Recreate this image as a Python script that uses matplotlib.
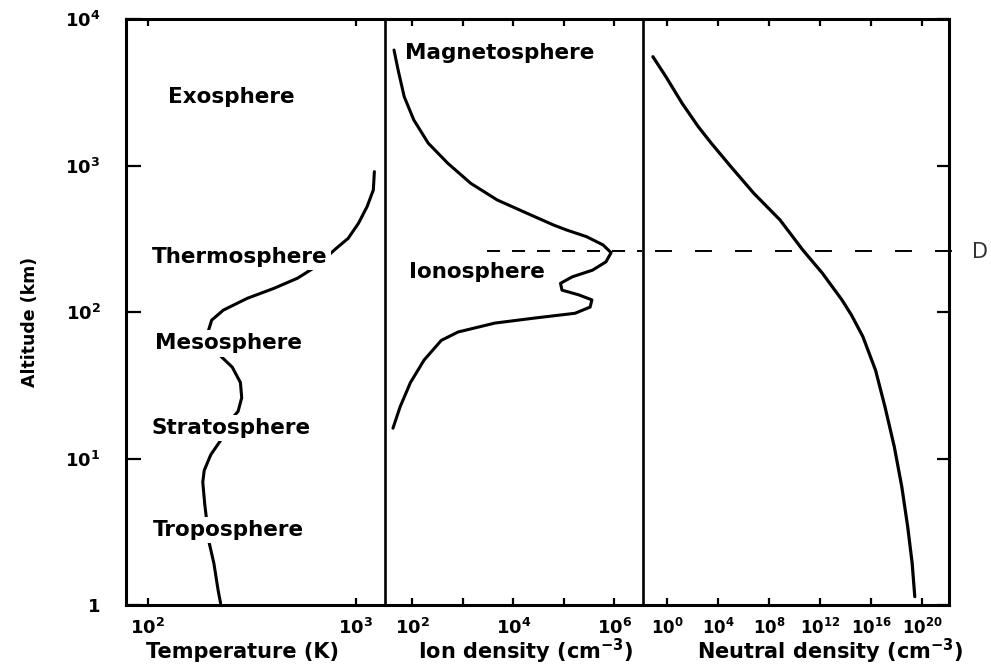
import matplotlib
matplotlib.use("Agg")
import matplotlib.pyplot as plt
from matplotlib.ticker import FixedLocator, FixedFormatter, NullLocator

plt.rcParams["font.family"] = ["DejaVu Sans"]
plt.rcParams["font.weight"] = "bold"
plt.rcParams["mathtext.default"] = "bf"
plt.rcParams["lines.scale_dashes"] = False

# ---------------------------------------------------------------------------
# Atmospheric profiles
# ---------------------------------------------------------------------------
# Temperature (K) versus altitude (km)
temp_alt_km = [908, 681, 524, 403, 318, 272, 204, 170, 145, 124, 103, 88, 73,
               51, 42, 33, 26, 21, 18.5, 13.4, 10.6, 8.3, 6.9, 4.9, 3.8, 2.7,
               1.93, 1.26, 1.03]
temp_K = [1227, 1213, 1132, 1029, 918, 805, 643, 524, 404, 301, 231, 203, 195,
          221, 255, 279, 283, 272, 252, 225, 201, 187, 184, 188, 192, 197,
          208, 218, 224]

# Ion density (cm^-3) versus altitude (km)
ion_alt_km = [6140, 4490, 2950, 2050, 1420, 1035, 755, 582, 472, 393,
              363, 327, 287, 254, 220, 193, 174, 157, 141, 131,
              121, 108, 98, 91, 84, 73, 64, 47, 33, 22.5, 16.1]
ion_density = [44, 53, 70, 108, 209, 510, 1450, 4810, 1.87e4, 6.2e4,
               1.13e5, 2.8e5, 5.96e5, 8.6e5, 6.8e5, 3.69e5, 1.48e5, 8.6e4, 9.2e4, 1.96e5,
               3.59e5, 3.31e5, 1.66e5, 2.7e4, 4320, 810, 378, 173, 93, 58, 42]

# Neutral density (cm^-3) versus altitude (km)
neutral_alt_km = [5530, 4040, 2660, 1840, 1420, 982, 646, 425, 265, 184,
                  121, 95, 68, 40, 22.5, 12.0, 6.4, 3.4, 1.93, 1.14]
neutral_density = [0.072, 0.75, 14, 261, 2720, 9.4e4, 5.9e6, 6.7e8, 4.1e10, 1.41e12,
                   4.8e13, 2.75e14, 2.1e15, 2.1e16, 1.15e17, 6.2e17, 2.4e18, 7.0e18,
                   1.55e19, 2.5e19]

# Altitude of the dashed reference level (km)
d_level_alt_km = 260

# Axis ticks and labels
alt_ticks = [1, 10, 100, 1000, 10000]
alt_tick_labels = ["1", "$10^{1}$", "$10^{2}$", "$10^{3}$", "$10^{4}$"]
temp_ticks = [1e2, 1e3]
temp_tick_labels = ["$10^{2}$", "$10^{3}$"]
ion_ticks = [1e2, 1e3, 1e4, 1e5, 1e6]
ion_tick_labels = ["$10^{2}$", "", "$10^{4}$", "", "$10^{6}$"]
neutral_ticks = [1e0, 1e4, 1e8, 1e12, 1e16, 1e20]
neutral_tick_labels = ["$10^{0}$", "$10^{4}$", "$10^{8}$", "$10^{12}$",
                       "$10^{16}$", "$10^{20}$"]

temp_layers = ["Exosphere", "Thermosphere", "Mesosphere", "Stratosphere", "Troposphere"]
ion_layers = ["Magnetosphere", "Ionosphere"]

# ---------------------------------------------------------------------------
W, H = 991, 668
fig = plt.figure(figsize=(W / 100, H / 100), dpi=100)
fig.patch.set_facecolor("white")

y0, y1 = 605, 19          # frame bottom / top in pixels
xs = [125.5, 385, 642.5, 948.5]
axes = []
for i in range(3):
    ax = fig.add_axes([xs[i] / W, (H - y0) / H, (xs[i + 1] - xs[i]) / W, (y0 - y1) / H])
    axes.append(ax)
ax_t, ax_i, ax_n = axes

for ax in axes:
    ax.set_yscale("log")
    ax.set_xscale("log")
    ax.set_ylim(1, 1e4)
    ax.xaxis.set_minor_locator(NullLocator())
    ax.yaxis.set_minor_locator(NullLocator())
    for s in ax.spines.values():
        s.set_linewidth(2.2)
    ax.tick_params(axis="x", which="major", direction="in", top=True, bottom=True,
                   length=5, width=1.6, pad=9, labelsize=13)

ax_t.set_xlim(78.3, 1380)
ax_i.set_xlim(29.2, 3.59e6)
ax_n.set_xlim(0.011, 1.1e22)

ax_t.spines["right"].set_visible(False)
ax_i.spines["right"].set_visible(False)
ax_i.spines["left"].set_linewidth(1.9)
ax_n.spines["left"].set_linewidth(1.9)

# x ticks
for ax, ticks, labels in [(ax_t, temp_ticks, temp_tick_labels),
                          (ax_i, ion_ticks, ion_tick_labels),
                          (ax_n, neutral_ticks, neutral_tick_labels)]:
    ax.xaxis.set_major_locator(FixedLocator(ticks))
    ax.xaxis.set_major_formatter(FixedFormatter(labels))
ax_n.tick_params(axis="x", labelsize=12)

# y ticks
ax_t.yaxis.set_major_locator(FixedLocator(alt_ticks))
ax_t.yaxis.set_major_formatter(FixedFormatter(alt_tick_labels))
ax_t.tick_params(axis="y", direction="in", left=True, right=False, length=11,
                 width=1.6, pad=18, labelsize=13)
ax_i.tick_params(axis="y", left=False, right=False, labelleft=False)
ax_n.yaxis.set_major_locator(FixedLocator(alt_ticks))
ax_n.tick_params(axis="y", direction="in", left=False, right=True, length=9,
                 width=1.6, labelleft=False, labelright=False)

# curves
line_kw = dict(color="black", solid_capstyle="round", solid_joinstyle="round", zorder=2)
ax_t.plot(temp_K, temp_alt_km, lw=2.2, **line_kw)
ax_i.plot(ion_density, ion_alt_km, lw=2.2, **line_kw)
ax_n.plot(neutral_density, neutral_alt_km, lw=2.3, **line_kw)

# dashed reference level
ax_i.axhline(d_level_alt_km, xmin=0.396, xmax=1.0, color="black", lw=1.4,
             dashes=(9.4, 8.6), zorder=1)
ax_n.axhline(d_level_alt_km, xmin=0.04, xmax=1.02, color="black", lw=1.4,
             dashes=(12.2, 16.6), clip_on=False, zorder=1)
fig.text(972 / W, 1 - 252 / H, "D", fontsize=15, fontweight="normal",
         color="#333333", ha="left", va="center")

# layer names
temp_pos = [(0.164, 0.867), (0.102, 0.594), (0.114, 0.447), (0.102, 0.302), (0.106, 0.128)]
for name, (px, py) in zip(temp_layers, temp_pos):
    t = ax_t.text(px, py, name, fontsize=15.5, fontweight="bold", ha="left",
                  va="center", transform=ax_t.transAxes, zorder=3)
    if name != "Exosphere":
        t.set_bbox(dict(facecolor="white", edgecolor="none", pad=2.5))

ion_pos = [(0.076, 0.942), (0.095, 0.568)]
for name, (px, py) in zip(ion_layers, ion_pos):
    ax_i.text(px, py, name, fontsize=15.5, fontweight="bold", ha="left",
              va="center", transform=ax_i.transAxes, zorder=3)

# axis titles
fig.text(243 / W, 1 - 652 / H, "Temperature (K)", fontsize=15, fontweight="bold",
         ha="center", va="center")
fig.text(526 / W, 1 - 651 / H, "Ion density (cm$^{-3}$)", fontsize=15,
         fontweight="bold", ha="center", va="center")
fig.text(830 / W, 1 - 651 / H, "Neutral density (cm$^{-3}$)", fontsize=15,
         fontweight="bold", ha="center", va="center")
fig.text(30 / W, 1 - 322 / H, "Altitude (km)", fontsize=12.5, fontweight="bold",
         rotation=90, ha="center", va="center")

fig.savefig("out.png", dpi=100, facecolor="white")
